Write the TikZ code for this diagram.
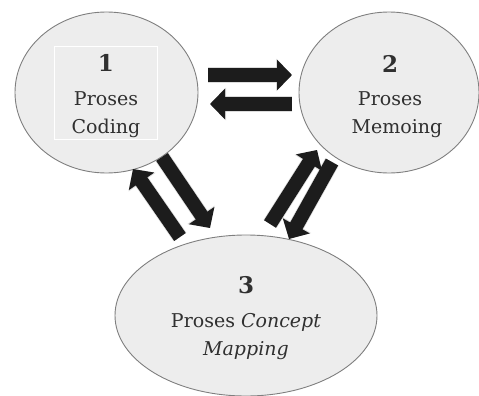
\documentclass[tikz,border=0pt]{standalone}
\usepackage{fontspec}
\setmainfont{DejaVu Serif}
\usetikzlibrary{arrows.meta}
\definecolor{efill}{HTML}{EDEDED}
\definecolor{eline}{HTML}{7F7F7F}
\definecolor{txt}{HTML}{303030}
\definecolor{arr}{HTML}{1C1C1C}
\tikzset{
  bubble/.style={draw=eline, line width=0.9pt, fill=efill},
  numtxt/.style={anchor=base, text=txt, font=\fontsize{23}{23}\selectfont\bfseries, inner sep=0pt},
  lbltxt/.style={anchor=base, text=txt, font=\fontsize{19}{19}\selectfont, inner sep=0pt},
  blockarrow/.style={draw=arr, line width=14pt, -{Triangle[length=15pt,width=30pt]}},
  blockshadow/.style={draw=black!30, line width=15.5pt, opacity=0.45, -{Triangle[length=16pt,width=32pt]}, shift={(1.2,1.2)}}
}
\begin{document}
\begin{tikzpicture}[x=1pt,y=-1pt]
\useasboundingbox (0,0) rectangle (479,396);
% ellipses
\draw[bubble] (106.5,92.5) ellipse [x radius=91.5, y radius=80.5];
\node[minimum width=183pt, minimum height=161pt, inner sep=0pt] (e1) at (106.5,92.5) {};
\draw[bubble] (389,92.5) ellipse [x radius=90, y radius=80.5];
\node[minimum width=180pt, minimum height=161pt, inner sep=0pt] (e2) at (389,92.5) {};
\draw[bubble] (246,315.5) ellipse [x radius=131, y radius=80.5];
\node[minimum width=262pt, minimum height=161pt, inner sep=0pt] (e3) at (246,315.5) {};
% box in ellipse 1
\node[draw=white, line width=0.8pt, minimum width=103pt, minimum height=93pt, inner sep=0pt] (box1) at (105.5,92.5) {};
% texts
\node[numtxt] (n1) at (106,71) {1};
\node[lbltxt] (p1) at (106,105) {Proses};
\node[lbltxt] (c1) at (106,133) {Coding};
\node[numtxt] (n2) at (390,72) {2};
\node[lbltxt] (p2) at (390,105) {Proses};
\node[lbltxt] (m2) at (397,133) {Memoing};
\node[numtxt] (n3) at (246,293) {3};
\node[lbltxt] (p3) at (246,327) {Proses \textit{Concept}};
\node[lbltxt] (m3) at (246,355) {\textit{Mapping}};
% arrow end points
\coordinate (a1) at (208,75);  \coordinate (a2) at (292,75);
\coordinate (b1) at (292,104); \coordinate (b2) at (210,104);
\coordinate (c1s) at (162,157); \coordinate (c2s) at (210,228);
\coordinate (d1) at (180,237); \coordinate (d2) at (133,169);
\coordinate (f1) at (270,224); \coordinate (f2) at (317,150);
\coordinate (g1) at (332,162); \coordinate (g2) at (289,239);
% shadows
\foreach \s/\t in {a1/a2,b1/b2,c1s/c2s,d1/d2,f1/f2,g1/g2}
  \draw[blockshadow] (\s) -- (\t);
% arrows
\draw[blockarrow] (a1) -- (a2);
\draw[blockarrow] (b1) -- (b2);
\draw[blockarrow] (c1s) -- (c2s);
\draw[blockarrow] (d1) -- (d2);
\draw[blockarrow] (f1) -- (f2);
\draw[blockarrow] (g1) -- (g2);
\end{tikzpicture}
\end{document}
